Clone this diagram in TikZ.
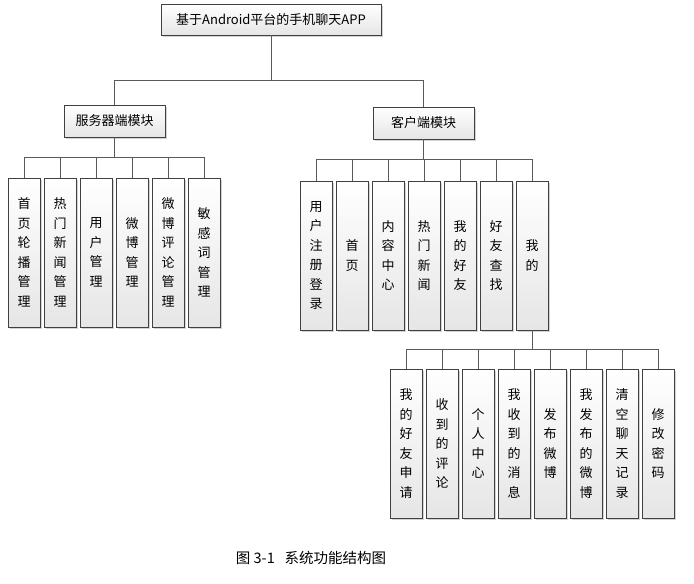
\documentclass[tikz,border=0pt]{standalone}
\usepackage{fontspec}
\setmainfont{Noto Sans CJK SC}
\usetikzlibrary{positioning, shadows}

\begin{document}
\begin{tikzpicture}[x=1pt, y=-1pt,
						block/.style={draw=black!75, top color=white, bottom color=black!10, line width=0.7pt, inner sep=0pt, align=center,
							font=\fontsize{13}{19.5}\selectfont, drop shadow={opacity=0.35, shadow xshift=1.5pt, shadow yshift=-1.5pt}},
						wide/.style={block, minimum width=101pt, minimum height=32pt},
						tall/.style={block, minimum width=32pt, minimum height=149pt},
						link/.style={draw=black!65, line width=0.8pt}]
		\useasboundingbox (0,0) rectangle (694,584);

		\node (root) [block, minimum width=220pt, minimum height=31pt] at (271,19.5) {基于Android平台的手机聊天APP};
		\node (srv) [wide] at (114.5,121) {服务器端模块};
		\node (cli) [wide] at (423.5,123) {客户端模块};

		% server side
		\foreach \t [count=\i] in {{首\\页\\轮\\播\\管\\理}, {热\\门\\新\\闻\\管\\理}, {用\\户\\管\\理},
				{微\\博\\管\\理}, {微\\博\\评\\论\\管\\理}, {敏\\感\\词\\管\\理}}
			\node (s\i) [tall] at ({-12+36*\i},252.5) {\t};

		% client side
		\foreach \t [count=\i] in {{用\\户\\注\\册\\登\\录}, {首\\页}, {内\\容\\中\\心}, {热\\门\\新\\闻},
				{我\\的\\好\\友}, {好\\友\\查\\找}, {我\\的}}
			\node (c\i) [tall] at ({280+36*\i},255.5) {\t};

		% my page
		\foreach \t [count=\i] in {{我\\的\\好\\友\\申\\请}, {收\\到\\的\\评\\论}, {个\\人\\中\\心}, {我\\收\\到\\的\\消\\息},
				{发\\布\\微\\博}, {我\\发\\布\\的\\微\\博}, {清\\空\\聊\\天\\记\\录}, {修\\改\\密\\码}}
			\node (m\i) [tall] at ({370+36*\i},443.5) {\t};

		\draw[link] (root.south) -- ++(0,45) -| (srv.north);
		\draw[link] (root.south) -- ++(0,45) -| (cli.north);
		\foreach \i in {1,...,6}
			\draw[link] (srv.south) -- ++(0,20) -| (s\i.north);
		\foreach \i in {1,...,7}
			\draw[link] (cli.south) -- ++(0,20.5) -| (c\i.north);
		\foreach \i in {1,...,8}
			\draw[link] (c7.south) -- ++(0,19) -| (m\i.north);

		\node (cap) [font=\fontsize{14.5}{16}\selectfont] at (311,558) {图\ 3-1\ \ \ 系统功能结构图};
	\end{tikzpicture}
\end{document}
